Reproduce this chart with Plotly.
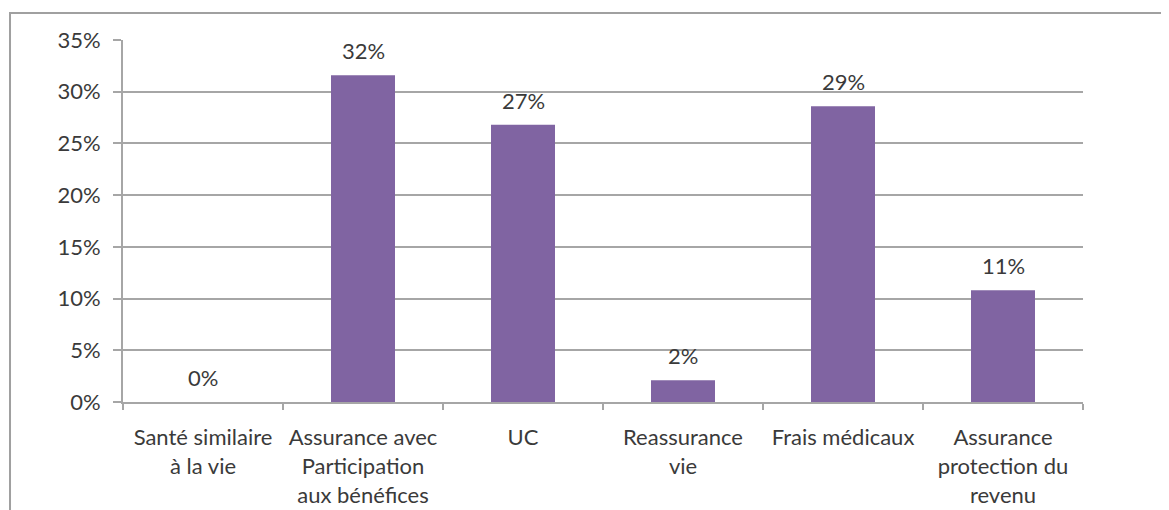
import plotly.graph_objects as go

categories = [
    "Santé similaire<br>à la vie",
    "Assurance avec<br>Participation<br>aux bénéfices",
    "UC",
    "Reassurance<br>vie",
    "Frais médicaux",
    "Assurance<br>protection du<br>revenu",
]
values = [0.0, 0.316, 0.268, 0.021, 0.286, 0.108]
y_ticks = [0, 0.05, 0.10, 0.15, 0.20, 0.25, 0.30, 0.35]

FONT = "Lato"
FS = 22
TXT = "#3a3a3a"
GRID = "#a6a6a6"

fig = go.Figure(
    go.Bar(
        x=categories,
        y=values,
        marker=dict(color="#8064A2", line=dict(width=0)),
        cliponaxis=False,
    )
)

for cat, val in zip(categories, values):
    fig.add_annotation(
        x=cat,
        y=val,
        text=f"{val:.0%}",
        showarrow=False,
        yanchor="bottom",
        yshift=9,
        font=dict(family=FONT, size=FS, color=TXT),
    )

fig.update_layout(
    width=1161,
    height=502,
    margin=dict(l=115, r=86, t=32, b=108, autoexpand=False),
    paper_bgcolor="white",
    plot_bgcolor="white",
    bargap=0.6,
    showlegend=False,
    font=dict(family=FONT, size=FS, color=TXT),
    xaxis=dict(
        automargin=False,
        tickson="boundaries",
        ticks="outside",
        ticklen=6,
        tickcolor=GRID,
        tickwidth=2,
        showline=True,
        linecolor=GRID,
        linewidth=2,
        showgrid=False,
        tickfont=dict(family=FONT, size=FS, color=TXT),
        tickangle=0,
        ticklabelstandoff=15,
    ),
    yaxis=dict(
        automargin=False,
        range=[0, 0.35],
        tickvals=y_ticks,
        tickformat=".0%",
        ticks="outside",
        ticklen=8,
        tickcolor=GRID,
        tickwidth=2,
        showline=True,
        linecolor=GRID,
        linewidth=2,
        showgrid=True,
        gridcolor=GRID,
        gridwidth=2,
        zeroline=False,
        tickfont=dict(family=FONT, size=FS, color=TXT),
        ticklabelstandoff=8,
    ),
    shapes=[
        dict(
            type="rect",
            xref="paper",
            yref="paper",
            x0=-0.1177,
            x1=1.12,
            y0=-0.35,
            y1=1.0746,
            line=dict(color="#a0a0a0", width=2),
            fillcolor="rgba(0,0,0,0)",
            layer="below",
        )
    ],
)

fig.write_html("out.html")
